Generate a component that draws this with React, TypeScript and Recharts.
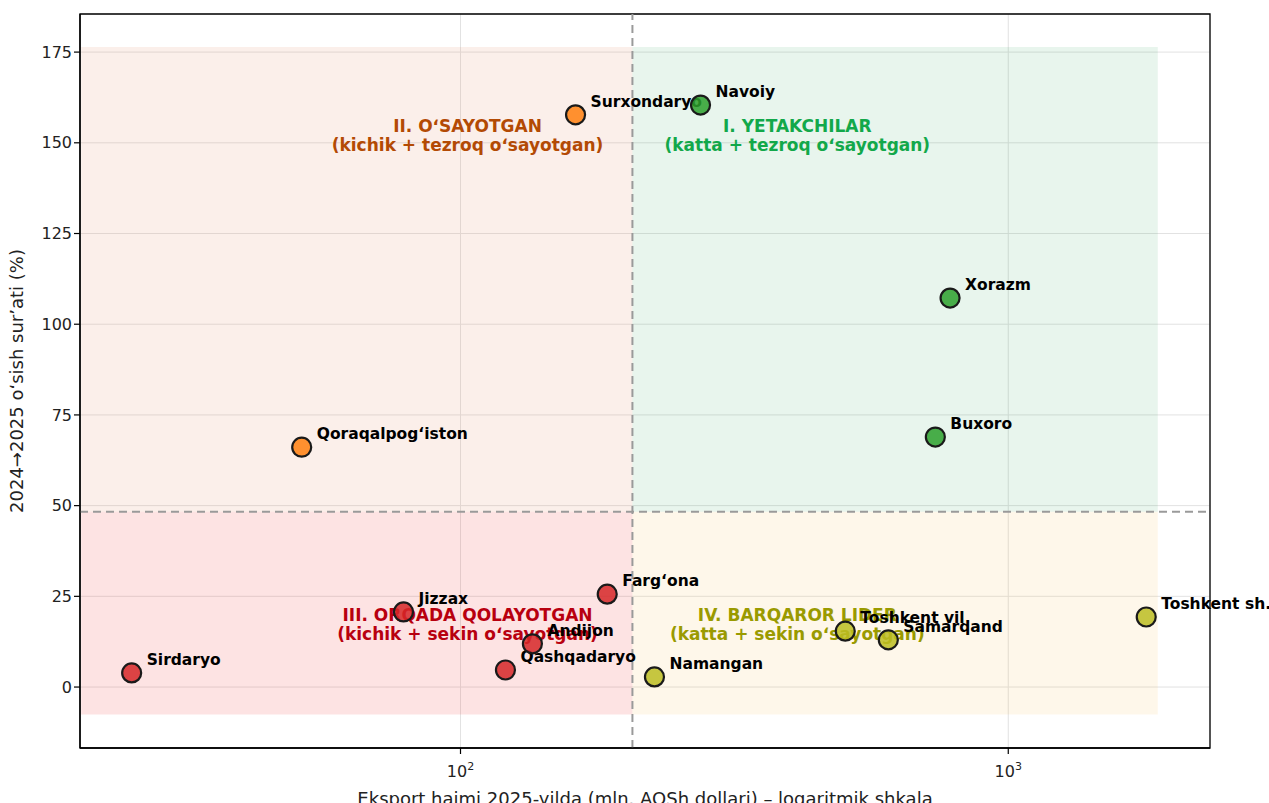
import React from 'react';
import { ScatterChart, Scatter, XAxis, YAxis, CartesianGrid, ReferenceArea, ReferenceLine } from 'recharts';

// Viloyatlar: eksport hajmi (mln. AQSh dollari) va 2024→2025 o'sish sur'ati (%)
const regions = [
    'Sirdaryo', 'Qoraqalpogʻiston', 'Jizzax', 'Qashqadaryo', 'Andijon', 'Surxondaryo', 'Fargʻona',
    'Namangan', 'Navoiy', 'Toshkent vil.', 'Samarqand', 'Buxoro', 'Xorazm', 'Toshkent sh.',
];
const exportVolume = [25.1, 51.3, 78.7, 120.8, 135.3, 162.2, 185.3, 226, 274.3, 504, 604, 736, 783, 1786];
const growthRate = [3.9, 66.1, 20.7, 4.7, 11.9, 157.7, 25.6, 2.8, 160.4, 15.4, 13.0, 68.9, 107.2, 19.3];

const xMajorTicks = [100, 1000];
const xMinorTicks = [30, 40, 50, 60, 70, 80, 90, 200, 300, 400, 500, 600, 700, 800, 900, 2000];
const yTicks = [0, 25, 50, 75, 100, 125, 150, 175];

// chegaralar: eksport mediani va o'sish o'rtachasi
const exportThreshold = 206;
const growthThreshold = 48.3;

const X_DOMAIN: [number, number] = [20.2, 2335];
const Y_DOMAIN: [number, number] = [-16.8, 185.5];
const zoneX: [number, number] = [20.3, 1875];
const zoneY: [number, number] = [-7.6, 176.4];

const quadrants = [
    { key: 'lead', title: 'I. YETAKCHILAR', sub: '(katta + tezroq oʻsayotgan)' },
    { key: 'grow', title: 'II. OʻSAYOTGAN', sub: '(kichik + tezroq oʻsayotgan)' },
    { key: 'lag', title: 'III. ORQADA QOLAYOTGAN', sub: '(kichik + sekin oʻsayotgan)' },
    { key: 'stable', title: 'IV. BARQAROR LIDER', sub: '(katta + sekin oʻsayotgan)' },
];

const COLORS: Record<string, { dot: string; text: string; bg: string; bgOpacity: number }> = {
    lead: { dot: '#2ca02c', text: '#12a84a', bg: '#2ca25f', bgOpacity: 0.11 },
    grow: { dot: '#ff7f0e', text: '#b34a04', bg: '#e0906a', bgOpacity: 0.14 },
    lag: { dot: '#d62728', text: '#b8000f', bg: '#f03b3b', bgOpacity: 0.14 },
    stable: { dot: '#bcbd22', text: '#9a9a00', bg: '#f5c050', bgOpacity: 0.12 },
};

const FONT = '"DejaVu Sans", sans-serif';

function quadrantOf(x: number, y: number) {
    if (y >= growthThreshold) return x >= exportThreshold ? 'lead' : 'grow';
    return x >= exportThreshold ? 'stable' : 'lag';
}

const points = regions.map((name, i) => ({
    name,
    x: exportVolume[i],
    y: growthRate[i],
    q: quadrantOf(exportVolume[i], growthRate[i]),
}));

// quadrant captions anchored around thresholds
const captionPoints = quadrants.map(q => ({
    ...q,
    x: q.key === 'lead' || q.key === 'stable' ? exportThreshold * 2 : exportThreshold / 2,
    y: q.key === 'lead' || q.key === 'grow' ? 152 : 17,
}));

const LogTick = (props: any) => {
    const { x, y, payload } = props;
    const exp = Math.round(Math.log10(payload.value));
    return (
        <text x={x} y={y + 21} textAnchor="middle" fontFamily={FONT} fontSize={16} fill="#222">
            10<tspan dy={-7} fontSize={11}>{exp}</tspan>
        </text>
    );
};

const EmptyTick = () => <g />;

const Dot = (props: any) => {
    const { cx, cy, payload } = props;
    return (
        <circle cx={cx} cy={cy} r={9.5} fill={COLORS[payload.q].dot} fillOpacity={0.85} stroke="#1a1a1a" strokeWidth={2.2} />
    );
};

const PointLabel = (props: any) => {
    const { cx, cy, payload } = props;
    return (
        <text x={cx + 15} y={cy - 8} fontFamily={FONT} fontSize={15.5} fontWeight="bold" fill="#000">
            {payload.name}
        </text>
    );
};

const Caption = (props: any) => {
    const { cx, cy, payload } = props;
    const color = COLORS[payload.key].text;
    return (
        <g fontFamily={FONT} fontSize={17} fontWeight="bold" fill={color} textAnchor="middle">
            <text x={cx} y={cy - 4}>{payload.title}</text>
            <text x={cx} y={cy + 15}>{payload.sub}</text>
        </g>
    );
};

export default function App() {
    return (
        <div style={{ width: 1269, height: 803, background: '#fff' }}>
            <style>{`body{margin:0}`}</style>
            <ScatterChart width={1269} height={803} margin={{ top: 14, right: 59, bottom: 0, left: 0 }}>
                <CartesianGrid stroke="#e2e2e2" strokeWidth={1} />

                <XAxis
                    xAxisId="minor"
                    dataKey="x"
                    type="number"
                    scale="log"
                    domain={X_DOMAIN}
                    allowDataOverflow
                    ticks={xMinorTicks}
                    tick={<EmptyTick />}
                    tickSize={3.5}
                    tickLine={{ stroke: '#000', strokeWidth: 1 }}
                    axisLine={false}
                    height={0}
                />
                <XAxis
                    dataKey="x"
                    type="number"
                    scale="log"
                    domain={X_DOMAIN}
                    ticks={xMajorTicks}
                    tick={<LogTick />}
                    tickSize={6}
                    tickLine={{ stroke: '#000', strokeWidth: 1.2 }}
                    axisLine={{ stroke: '#000', strokeWidth: 1.3 }}
                    height={55}
                    label={{
                        value: 'Eksport hajmi 2025-yilda (mln. AQSh dollari) – logaritmik shkala',
                        position: 'insideBottom',
                        offset: -2,
                        style: { fontFamily: FONT, fontSize: 18, fill: '#222' },
                    }}
                />
                <YAxis
                    dataKey="y"
                    type="number"
                    domain={Y_DOMAIN}
                    ticks={yTicks}
                    tick={{ fontFamily: FONT, fontSize: 16, fill: '#222' }}
                    tickSize={6}
                    tickLine={{ stroke: '#000', strokeWidth: 1.2 }}
                    axisLine={{ stroke: '#000', strokeWidth: 1.3 }}
                    width={80}
                    label={{
                        value: '2024→2025 oʻsish surʼati (%)',
                        angle: -90,
                        position: 'insideLeft',
                        offset: 17,
                        style: { textAnchor: 'middle', fontFamily: FONT, fontSize: 18, fill: '#222' },
                    }}
                />

                <ReferenceArea x1={zoneX[0]} x2={exportThreshold} y1={growthThreshold} y2={zoneY[1]}
                    fill={COLORS.grow.bg} fillOpacity={COLORS.grow.bgOpacity} stroke="none" />
                <ReferenceArea x1={exportThreshold} x2={zoneX[1]} y1={growthThreshold} y2={zoneY[1]}
                    fill={COLORS.lead.bg} fillOpacity={COLORS.lead.bgOpacity} stroke="none" />
                <ReferenceArea x1={zoneX[0]} x2={exportThreshold} y1={zoneY[0]} y2={growthThreshold}
                    fill={COLORS.lag.bg} fillOpacity={COLORS.lag.bgOpacity} stroke="none" />
                <ReferenceArea x1={exportThreshold} x2={zoneX[1]} y1={zoneY[0]} y2={growthThreshold}
                    fill={COLORS.stable.bg} fillOpacity={COLORS.stable.bgOpacity} stroke="none" />

                <ReferenceLine x={exportThreshold} stroke="#9a9a9a" strokeWidth={2} strokeDasharray="8 5" />
                <ReferenceLine y={growthThreshold} stroke="#9a9a9a" strokeWidth={2} strokeDasharray="8 5" />

                {/* plot frame */}
                <ReferenceArea x1={X_DOMAIN[0]} x2={X_DOMAIN[1]} y1={Y_DOMAIN[0]} y2={Y_DOMAIN[1]}
                    fill="none" stroke="#000" strokeWidth={1.3} ifOverflow="visible" />

                <Scatter data={captionPoints} shape={<Caption />} isAnimationActive={false} />
                <Scatter data={points} shape={<PointLabel />} isAnimationActive={false} />
                <Scatter data={points} shape={<Dot />} isAnimationActive={false} />
            </ScatterChart>
        </div>
    );
}
